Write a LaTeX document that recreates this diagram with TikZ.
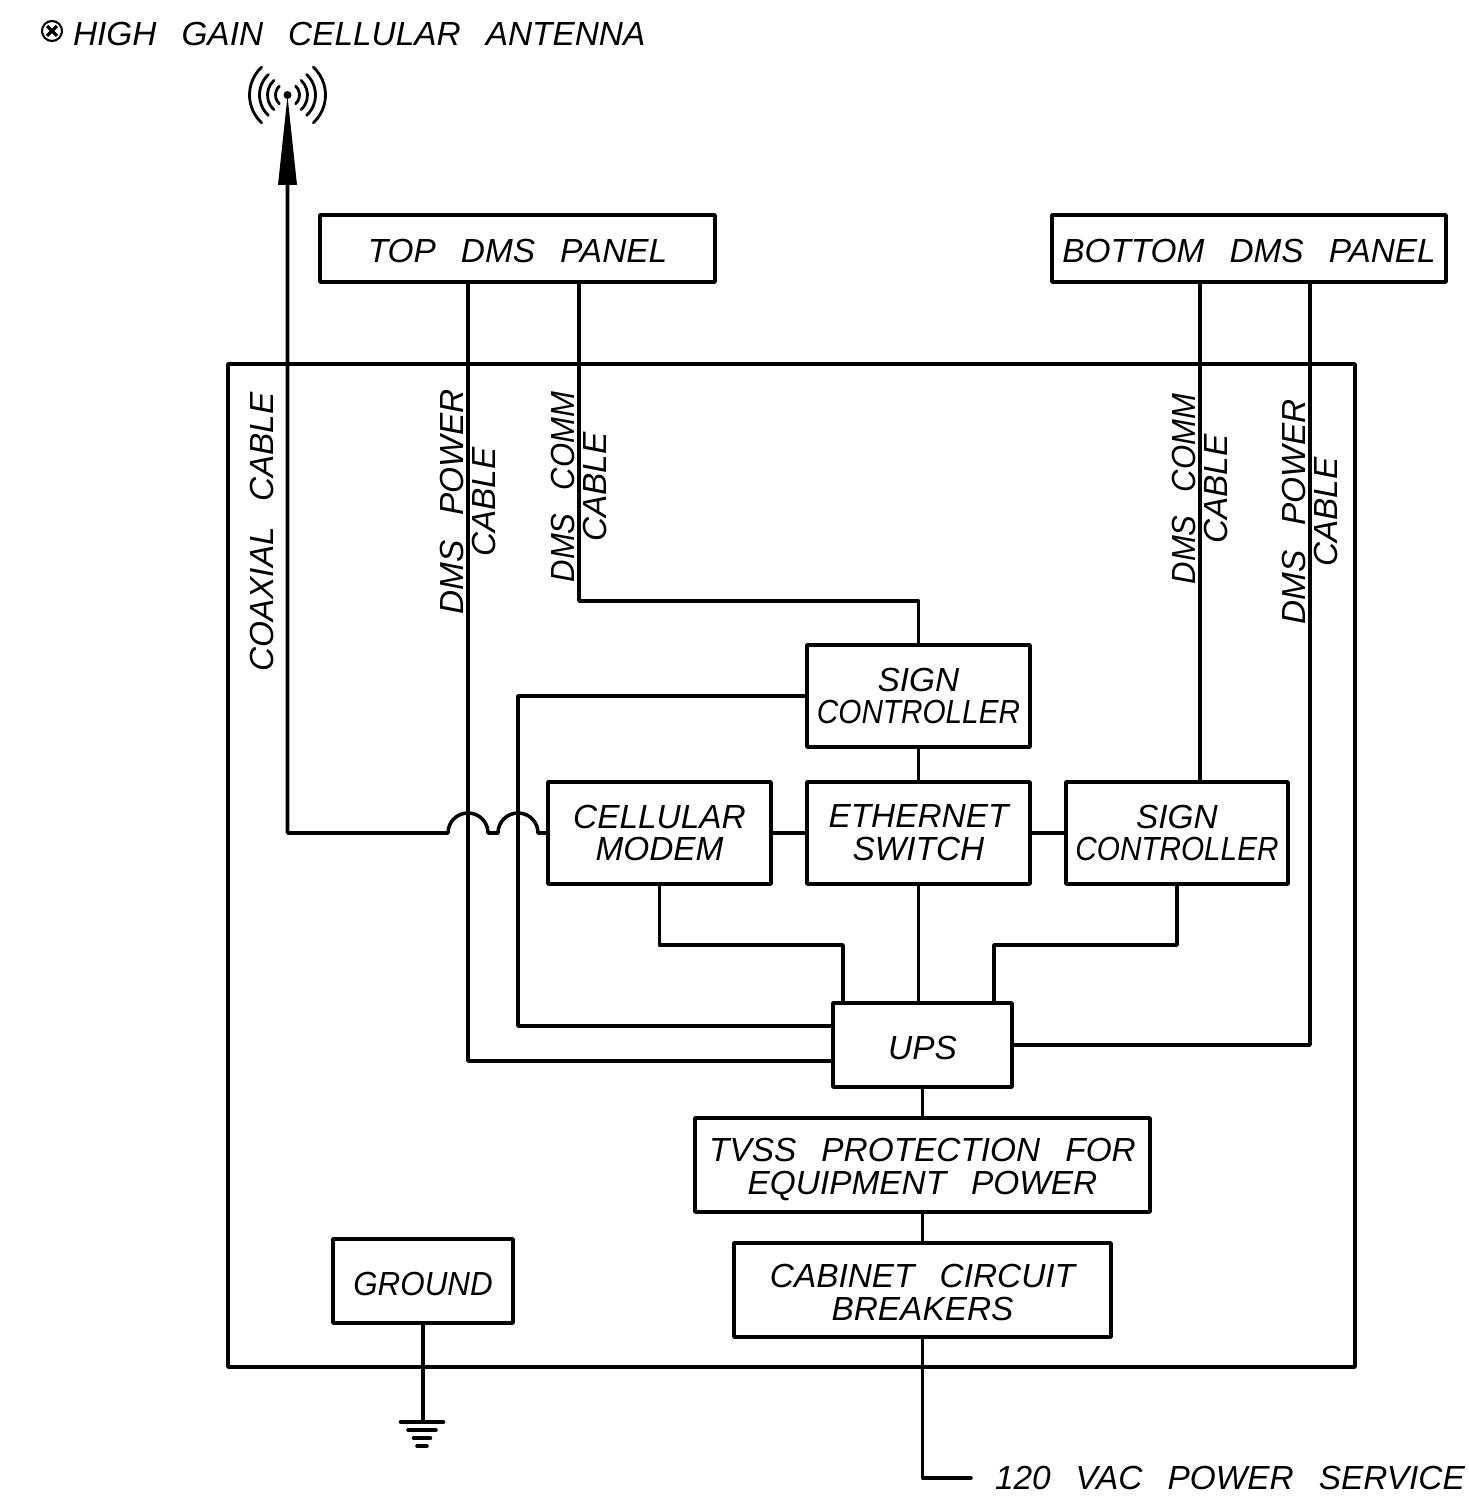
\documentclass[tikz,border=0pt]{standalone}
\usepackage{fontspec}
\setmainfont{Liberation Sans}[WordSpace=2.7]
\usetikzlibrary{arrows.meta}
\newcommand{\nw}[1]{\addfontfeature{FakeStretch=#1}}
\begin{document}
\begin{tikzpicture}[line join=round, line cap=round, >=stealth, line width=2pt,
	font=\fontsize{19}{18.7}\selectfont\itshape,
	box/.style={draw, inner sep=0pt, outer sep=0pt, align=center, minimum width=#1},
	low/.style={execute at begin node={\rule{0pt}{16.5pt}}},
	lbl/.style={inner sep=0pt, outer sep=0pt, align=center}]
	\useasboundingbox (0,0) rectangle (29.38,30.1);
	\path
	(5.75,28.2) coordinate (ant)
	(11.58,18.08) coordinate (commL)
	(9.36,8.88) coordinate (powerL)
	(10.36,9.58) coordinate (sigL)
	(24,25) coordinate (commR)
	(26.2,25) coordinate (powerR)
	(16.86,11.2) coordinate (upsA)
	(19.88,11.2) coordinate (upsB)
	(8.46,1.66) coordinate (gnd);
	
	\node[box=22.54cm, minimum height=20.06cm] (cabinet) at (15.83,12.79) {};
	\node[box=7.9cm, minimum height=1.34cm, low] (top) at (10.35,25.13) {TOP DMS PANEL};
	\node[box=7.88cm, minimum height=1.34cm, low] (bottom) at (24.98,25.13) {BOTTOM DMS PANEL};
	\node[box=4.46cm, minimum height=2.04cm] (signA) at (18.37,16.18) {SIGN\\{\nw{.89}CONTROLLER}};
	\node[box=4.46cm, minimum height=2.04cm] (modem) at (13.19,13.44) {CELLULAR\\MODEM};
	\node[box=4.46cm, minimum height=2.04cm] (switch) at (18.37,13.44) {ETHERNET\\SWITCH};
	\node[box=4.44cm, minimum height=2.04cm] (signB) at (23.54,13.44) {SIGN\\{\nw{.89}CONTROLLER}};
	\node[box=3.58cm, minimum height=1.68cm, low] (ups) at (18.45,9.2) {UPS};
	\node[box=9.1cm, minimum height=1.88cm] (tvss) at (18.45,6.8) {\rule{0pt}{18.5pt}TVSS PROTECTION FOR\\EQUIPMENT POWER};
	\node[box=7.54cm, minimum height=1.88cm] (breakers) at (18.45,4.3) {\rule{0pt}{16.5pt}CABINET CIRCUIT\\BREAKERS};
	\node[box=3.6cm, minimum height=1.68cm, low] (ground) at (8.46,4.48) {{\nw{.94}GROUND}};
	
	\node[lbl, anchor=west] (title) at (1.46,29.42) {HIGH GAIN CELLULAR ANTENNA};
	\node[lbl, anchor=west, inner xsep=.48cm] (service) at (19.42,0.54) {120 VAC POWER SERVICE};
	\node[lbl, rotate=90] (coaxLbl) at (5.24,19.46) {COAXIAL CABLE};
	\node[lbl, rotate=90] (powerLblL) at (9.36,20.06) {DMS POWER\\CABLE};
	\node[lbl, rotate=90] (commLblL) at (11.58,20.36) {{\nw{.93}DMS COMM}\\CABLE};
	\node[lbl, rotate=90] (commLblR) at (24,20.32) {{\nw{.93}DMS COMM}\\CABLE};
	\node[lbl, rotate=90] (powerLblR) at (26.2,19.86) {DMS POWER\\CABLE};
	
	\draw
	(top.south -| powerL) -- (powerL) -- (ups.west |- powerL)
	(top.south -| commL) -- (commL) -| (signA.north)
	(bottom.south -| commR) -- (signB.north -| commR)
	(bottom.south -| powerR) |- (ups.east)
	(signA.west) -| (sigL) -- (ups.west |- sigL)
	(signA.south) -- (switch.north)
	(modem.east) -- (switch.west)
	(switch.east) -- (signB.west)
	(switch.south) -- (switch.south |- ups.north)
	(modem.south) |- (upsA) -- (upsA |- ups.north)
	(signB.south) |- (upsB) -- (upsB |- ups.north)
	(ups.south) -- (tvss.north)
	(tvss.south) -- (breakers.north)
	(breakers.south) |- (service.west)
	(ground.south) -- (ground.south |- gnd);
	
	\draw[-{Triangle[length=1.8cm,width=.36cm]}]
	(modem.west) -- (10.76,13.44) arc (0:180:.4) -- (9.76,13.44) arc (0:180:.4) -- (5.75,13.44) -- (ant);
	
	\fill (ant) circle (.08);
	\foreach \r in {.24,.4,.56,.76}
	\draw[line width=1.6pt] (ant) ++(133:\r) arc (133:227:\r) (ant) ++(47:\r) arc (47:-47:\r);
	
	\foreach \w/\y in {.43/1.66, .28/1.5, .17/1.34, .1/1.18}
	\draw (8.44-\w,\y) -- (8.44+\w,\y);
	
	\draw[line width=1.2pt] (1.04,29.48) circle (.2);
	\foreach \g in {45,135}
	\draw[line width=1.8pt, line cap=butt] (1.04,29.48) ++(\g:.14) -- ++(\g+180:.28);
\end{tikzpicture}
\end{document}
